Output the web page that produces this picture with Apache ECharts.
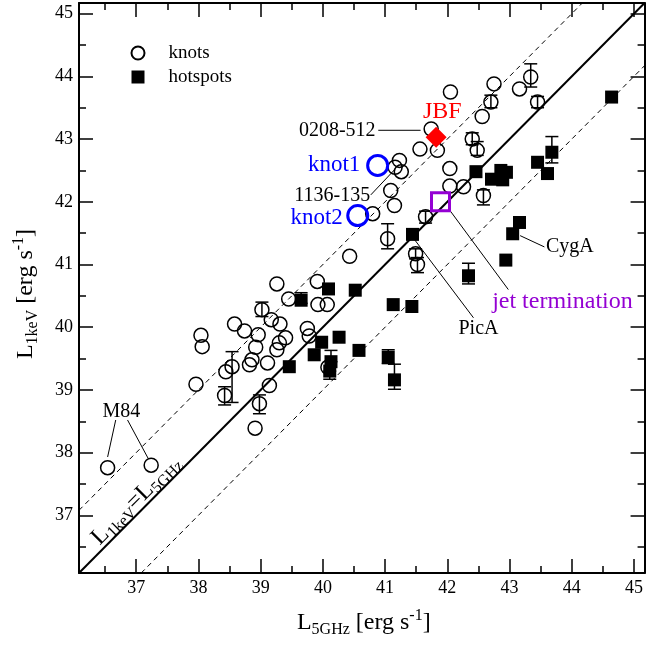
<!DOCTYPE html>
<html>
<head>
<meta charset="utf-8">
<script src="https://cdn.jsdelivr.net/npm/echarts@6/dist/echarts.min.js"></script>
<style>html,body{margin:0;padding:0;background:#fff;}#c{width:646px;height:646px;}</style>
</head>
<body>
<div id="c"></div>
<script>
// ---- axis range and ticks ----
const AXIS_MIN = 36.08;
const AXIS_MAX = 45.17;
const majorTicks = [37, 38, 39, 40, 41, 42, 43, 44, 45];
const minorTicks = [36.5, 37.5, 38.5, 39.5, 40.5, 41.5, 42.5, 43.5, 44.5];

// ---- knots (open circles): [L5GHz, L1keV] ----
const knots = [
  [36.54,37.76],[37.24,37.80],
  [37.96,39.09],[38.42,38.91],[38.98,38.78],[38.91,38.39],[39.14,39.07],
  [38.54,39.37],[38.44,39.29],[38.82,39.40],[38.86,39.48],[39.11,39.43],
  [38.04,39.87],[38.06,39.69],[38.58,40.05],[38.74,39.94],[38.96,39.88],[38.92,39.68],
  [39.26,39.64],[39.30,39.75],[39.40,39.83],[39.75,39.98],[39.78,39.86],
  [39.02,40.28],[39.17,40.12],[39.31,40.05],[39.45,40.45],[39.26,40.69],[39.91,40.73],[39.92,40.36],[40.07,40.36],
  [40.08,39.36],
  [40.43,41.13],[40.80,41.81],[41.04,41.41],[41.49,41.17],[41.52,41.00],[41.65,41.76],
  [41.15,41.94],[41.09,42.18],[41.16,42.55],[41.23,42.66],[41.26,42.48],
  [41.56,42.84],[41.84,42.82],[41.74,43.16],[42.04,42.53],[42.04,42.25],[42.26,42.24],[42.58,42.10],
  [42.40,43.00],[42.48,42.82],[42.56,43.36],[42.70,43.59],[42.05,43.75],[42.75,43.88],[43.16,43.80],[43.34,43.99],[43.45,43.59]
];
// knot error bars: [L5GHz, low, high]
const knotErrors = [
  [43.34,43.83,44.20],[42.70,43.50,43.70],[43.45,43.50,43.68],[42.40,42.91,43.10],[42.48,42.74,42.96],
  [42.58,41.95,42.19],[41.65,41.66,41.85],[41.04,41.25,41.65],[41.49,41.09,41.25],[41.52,40.87,41.11],
  [39.02,40.17,40.40],[38.54,38.80,39.61],[38.42,38.76,39.05],[38.98,38.62,38.92]
];

// ---- hotspots (filled squares) ----
const hotspots = [
  [44.64,43.67],[43.68,42.79],[43.45,42.63],[43.61,42.45],
  [42.46,42.48],[42.71,42.36],[42.86,42.50],[42.95,42.47],[42.89,42.35],
  [43.16,41.67],[43.05,41.49],[42.94,41.07],[42.34,40.82],
  [41.44,41.48],[40.09,40.61],[40.52,40.59],[39.65,40.43],[41.13,40.36],[41.43,40.33],
  [39.98,39.76],[40.26,39.84],[39.86,39.56],[40.58,39.63],[39.46,39.37],[40.13,39.45],[40.11,39.30],
  [41.05,39.52],[41.15,39.16]
];
const hotspotErrors = [
  [43.68,42.62,43.04],[42.34,40.69,41.02],[39.65,40.38,40.55],[40.13,39.45,39.63],
  [40.11,39.17,39.30],[41.05,39.42,39.64],[41.15,39.01,39.41]
];

// ---- special objects ----
const knot1 = [40.88, 42.58];
const knot2 = [40.56, 41.78];
const jbf = [41.82, 43.03];
const jetTermination = [41.89, 42.00];

// ---- annotation texts [x, y] (label centres) ----
const annotations = [
  {text: 'JBF', pos: [41.92, 43.44], color: '#ff0000', size: 24},
  {text: '0208-512', pos: [40.23, 43.14], color: '#000000', size: 20},
  {text: 'knot1', pos: [40.18, 42.59], color: '#0000ff', size: 23},
  {text: '1136-135', pos: [40.15, 42.10], color: '#000000', size: 20},
  {text: 'knot2', pos: [39.90, 41.75], color: '#0000ff', size: 23},
  {text: 'M84', pos: [36.76, 38.65], color: '#000000', size: 20},
  {text: 'CygA', pos: [43.97, 41.28], color: '#000000', size: 20},
  {text: 'jet termination', pos: [43.85, 40.41], color: '#9400d3', size: 24},
  {text: 'PicA', pos: [42.50, 39.98], color: '#000000', size: 20}
];
// leader lines [[x1,y1],[x2,y2]]
const leaders = [
  [[40.89,43.14],[41.57,43.14]],
  [[40.77,42.11],[41.15,42.51]],
  [[36.67,38.52],[36.54,37.93]],
  [[36.86,38.52],[37.19,37.91]],
  [[43.17,41.46],[43.56,41.28]],
  [[42.05,41.85],[42.98,40.60]],
  [[41.47,41.40],[42.42,40.15]]
];
const equalityLabelPos = [37.00, 37.24];

const FONT = '"Liberation Serif","Times New Roman",serif';

function errorSeries(data) {
  return {
    type: 'custom', data: data, xAxisIndex: 0, yAxisIndex: 0, silent: true, z: 3,
    encode: {x: 0, y: [1, 2]},
    renderItem: function (params, api) {
      const x = api.value(0), lo = api.value(1), hi = api.value(2);
      const a = api.coord([x, lo]), b = api.coord([x, hi]);
      const hw = 6.5;
      const st = {stroke: '#000', lineWidth: 1.5};
      return {type: 'group', children: [
        {type: 'line', shape: {x1: a[0], y1: a[1], x2: b[0], y2: b[1]}, style: st},
        {type: 'line', shape: {x1: a[0]-hw, y1: a[1], x2: a[0]+hw, y2: a[1]}, style: st},
        {type: 'line', shape: {x1: b[0]-hw, y1: b[1], x2: b[0]+hw, y2: b[1]}, style: st}
      ]};
    }
  };
}

function axisSet(dim, pos, major, showLabel, withName) {
  const ax = {
    type: 'value', min: AXIS_MIN, max: AXIS_MAX, position: pos, gridIndex: 0,
    splitLine: {show: false},
    axisLine: {show: major, onZero: false, lineStyle: {color: '#000', width: 2}},
    axisTick: {show: true, inside: true, length: major ? 14 : 7,
      customValues: major ? majorTicks : minorTicks,
      lineStyle: {color: '#000', width: 1.5}},
    axisLabel: {show: showLabel, customValues: majorTicks, fontSize: 18, fontFamily: FONT, color: '#000',
      margin: 6},
    silent: true
  };
  if (withName) {
    const rich = {
      a: {fontSize: 24, fontFamily: FONT, color: '#000', lineHeight: 30},
      b: {fontSize: 16, fontFamily: FONT, color: '#000', lineHeight: 12, verticalAlign: 'bottom'},
      c: {fontSize: 16, fontFamily: FONT, color: '#000', lineHeight: 14, verticalAlign: 'top'}
    };
    ax.nameLocation = 'middle';
    if (dim === 'x') {
      ax.name = '{a|L}{b|5GHz}{a| [erg s}{c|-1}{a|]}';
      ax.nameGap = 35;
      ax.nameTextStyle = {rich: rich, padding: [0, 0, 0, 4]};
    } else {
      ax.name = '{a|L}{b|1keV}{a| [erg s}{c|-1}{a|]}';
      ax.nameGap = 38;
      ax.nameRotate = 90;
      ax.nameTextStyle = {rich: rich, padding: [0, 12, 0, 0]};
    }
  }
  return ax;
}

const series = [];
// reference lines
series.push({type: 'line', data: [[AXIS_MIN, AXIS_MIN], [AXIS_MAX, AXIS_MAX]], symbol: 'none', silent: true,
  lineStyle: {color: '#000', width: 2}, z: 1});
series.push({type: 'line', data: [[AXIS_MIN, AXIS_MIN + 1], [AXIS_MAX - 1, AXIS_MAX]], symbol: 'none', silent: true,
  lineStyle: {color: '#000', width: 1, type: [5, 4]}, z: 1});
series.push({type: 'line', data: [[AXIS_MIN + 1, AXIS_MIN], [AXIS_MAX, AXIS_MAX - 1]], symbol: 'none', silent: true,
  lineStyle: {color: '#000', width: 1, type: [5, 4]}, z: 1});
// leader lines
leaders.forEach(function (seg) {
  series.push({type: 'line', data: seg, symbol: 'none', silent: true, lineStyle: {color: '#000', width: 1}, z: 2});
});
series.push(errorSeries(knotErrors));
series.push(errorSeries(hotspotErrors));
series.push({name: 'knots', type: 'scatter', data: knots, symbol: 'circle', symbolSize: 14, z: 4,
  itemStyle: {color: 'rgba(255,255,255,0)', borderColor: '#000', borderWidth: 1.5, opacity: 1}});
series.push({name: 'hotspots', type: 'scatter', data: hotspots, symbol: 'rect', symbolSize: 13, z: 4,
  itemStyle: {color: '#000', opacity: 1}});
series.push({name: 'knotBlue', type: 'scatter', data: [knot1, knot2], symbol: 'circle', symbolSize: 20, z: 5,
  itemStyle: {color: 'rgba(255,255,255,0)', borderColor: '#0000ff', borderWidth: 3, opacity: 1}});
series.push({name: 'JBF', type: 'scatter', data: [jbf], symbol: 'diamond', symbolSize: 21, z: 5,
  itemStyle: {color: '#ff0000', opacity: 1}});
series.push({name: 'jetTerm', type: 'scatter', data: [jetTermination], symbol: 'rect', symbolSize: 18, z: 5,
  itemStyle: {color: 'rgba(255,255,255,0)', borderColor: '#9400d3', borderWidth: 3, opacity: 1}});
// annotation labels
series.push({type: 'scatter', symbolSize: 1, silent: true, z: 6,
  itemStyle: {color: 'rgba(0,0,0,0)', opacity: 1},
  data: annotations.map(function (a) {
    return {value: a.pos, label: {show: true, position: 'inside', formatter: a.text,
      color: a.color, fontSize: a.size, fontFamily: FONT}};
  })
});
series.push({type: 'scatter', symbolSize: 1, silent: true, z: 6,
  itemStyle: {color: 'rgba(0,0,0,0)', opacity: 1},
  data: [{value: equalityLabelPos, label: {show: true, position: 'inside', rotate: 45,
    formatter: '{a|L}{b|1keV}{a|=L}{b|5GHz}',
    rich: {
      a: {fontSize: 24, fontFamily: FONT, color: '#000', lineHeight: 28},
      b: {fontSize: 16, fontFamily: FONT, color: '#000', lineHeight: 12, verticalAlign: 'bottom'}
    }}}]
});

const chart = echarts.init(document.getElementById('c'), null, {renderer: 'canvas'});
chart.setOption({
  animation: false,
  backgroundColor: '#fff',
  grid: {left: 79, top: 3, width: 570, height: 570, containLabel: false},
  xAxis: [axisSet('x', 'bottom', true, true, true), axisSet('x', 'bottom', false, false, false),
          axisSet('x', 'top', true, false, false), axisSet('x', 'top', false, false, false)],
  yAxis: [axisSet('y', 'left', true, true, true), axisSet('y', 'left', false, false, false),
          axisSet('y', 'right', true, false, false), axisSet('y', 'right', false, false, false)],
  legend: {data: ['knots', 'hotspots'], orient: 'vertical', left: 125.5, top: 38.5, padding: 5,
    itemWidth: 13, itemHeight: 13, itemGap: 5, selectedMode: false,
    textStyle: {fontSize: 19, fontFamily: FONT, color: '#000', padding: [0, 0, 0, 19], lineHeight: 13}},
  series: series
});
</script>
</body>
</html>
